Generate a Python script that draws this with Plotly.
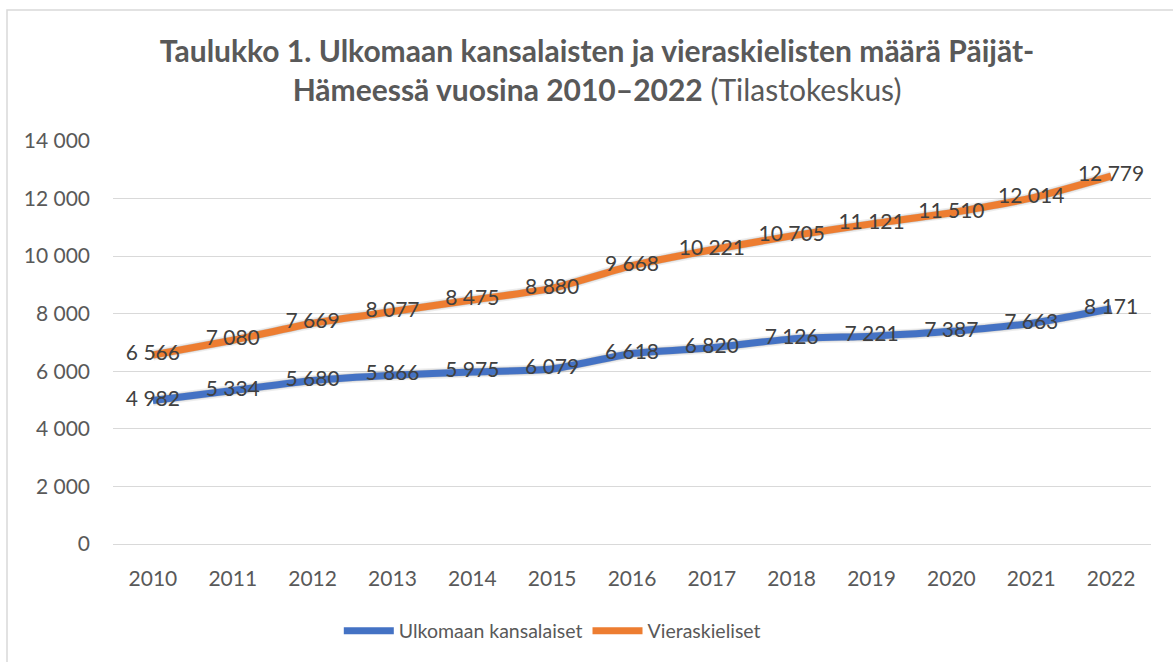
import plotly.graph_objects as go

years = ["2010", "2011", "2012", "2013", "2014", "2015", "2016", "2017", "2018", "2019", "2020", "2021", "2022"]
ulkomaan = [4982, 5334, 5680, 5866, 5975, 6079, 6618, 6820, 7126, 7221, 7387, 7663, 8171]
vieraskieliset = [6566, 7080, 7669, 8077, 8475, 8880, 9668, 10221, 10705, 11121, 11510, 12014, 12779]
y_ticks = [0, 2000, 4000, 6000, 8000, 10000, 12000, 14000]

FONT = "Lato, 'Open Sans', sans-serif"
BLUE = "#4472C4"
ORANGE = "#ED7D31"

fig = go.Figure()

# invisible trace to hold the visible (tick) axes
fig.add_trace(go.Scatter(x=years, y=ulkomaan, mode="lines", line=dict(width=0, color="rgba(0,0,0,0)"),
                         showlegend=False, hoverinfo="skip"))

# soft shadows (drawn on offset overlay axes)
for vals in (ulkomaan, vieraskieliset):
    for w, a in ((11, 0.07), (8, 0.14)):
        fig.add_trace(go.Scatter(x=years, y=vals, mode="lines", xaxis="x2", yaxis="y2",
                                 line=dict(color=f"rgba(0,0,0,{a})", width=w, shape="spline", smoothing=0.5),
                                 showlegend=False, hoverinfo="skip"))

fig.add_trace(go.Scatter(x=years, y=ulkomaan, mode="lines+text", name="Ulkomaan kansalaiset",
                         xaxis="x3", yaxis="y3",
                         line=dict(color=BLUE, width=7, shape="spline", smoothing=0.5),
                         texttemplate="%{y:,}", textposition="middle center",
                         textfont=dict(family=FONT, size=21, color="#404040")))
fig.add_trace(go.Scatter(x=years, y=vieraskieliset, mode="lines+text", name="Vieraskieliset",
                         xaxis="x3", yaxis="y3",
                         line=dict(color=ORANGE, width=7, shape="spline", smoothing=0.5),
                         texttemplate="%{y:,}", textposition="middle center",
                         textfont=dict(family=FONT, size=21, color="#404040")))

PW = 1173 - 113 - 19
PH = 662 - 141 - 115
dx = 3 / PW
dy = 3 / PH

fig.update_layout(
    width=1173, height=662,
    margin=dict(l=113, r=19, t=141, b=115, autoexpand=False),
    paper_bgcolor="white", plot_bgcolor="white",
    separators=", ",
    font=dict(family=FONT, color="#595959", size=21),
    title=dict(
        text="<b>Taulukko 1. Ulkomaan kansalaisten ja vieraskielisten määrä Päijät-<br>Hämeessä vuosina 2010–2022</b> (Tilastokeskus)",
        x=0.509, xref="container", xanchor="center",
        y=1 - 62 / 662, yref="container", yanchor="middle",
        font=dict(family=FONT, size=30, color="#595959"),
    ),
    xaxis=dict(type="category", range=[-0.5, 12.5], domain=[0, 1 - dx], showgrid=False,
               showline=False, ticks="", ticklabelstandoff=20, tickfont=dict(size=21, color="#595959")),
    yaxis=dict(range=[0, 14000], tickvals=y_ticks, tickformat=",d", domain=[dy, 1],
               showgrid=True, gridcolor="#D9D9D9", gridwidth=1.3, zeroline=True,
               zerolinecolor="#D9D9D9", zerolinewidth=1.3, showline=False, ticks="",
               ticklabelstandoff=22, tickfont=dict(size=21, color="#595959")),
    xaxis2=dict(type="category", range=[-0.5, 12.5], domain=[dx, 1], overlaying="x",
                visible=False, anchor="y2"),
    yaxis2=dict(range=[0, 14000], domain=[0, 1 - dy], overlaying="y", visible=False, anchor="x2"),
    xaxis3=dict(type="category", range=[-0.5, 12.5], domain=[0, 1 - dx], overlaying="x",
                visible=False, anchor="y3"),
    yaxis3=dict(range=[0, 14000], domain=[dy, 1], overlaying="y", visible=False, anchor="x3"),
    legend=dict(orientation="h", x=0.422, xanchor="center", y=-0.207, yanchor="middle",
                font=dict(size=19.5, color="#595959"), itemwidth=50),
    showlegend=True,
)

# chart outer border (Excel chart area frame)
fig.add_shape(type="rect", xref="paper", yref="paper",
              x0=(7 - 113) / PW, x1=(1200 - 113) / PW,
              y0=(547 - 700) / PH, y1=(547 - 10) / PH,
              line=dict(color="#D9D9D9", width=1.5), fillcolor="rgba(0,0,0,0)", layer="below")

fig.write_html("out.html", config={"displayModeBar": False},
               post_script="document.body.style.margin='0';")
